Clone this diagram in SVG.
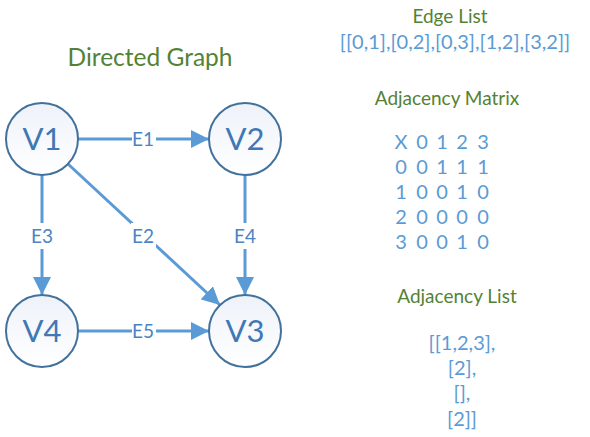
<svg xmlns="http://www.w3.org/2000/svg" width="590" height="437" viewBox="0 0 590 437">
  <style>
    .t { font-family: Lato, "Open Sans", "Liberation Sans", sans-serif; }
    .title { fill: #548235; font-size: 24.5px; }
    .head { fill: #548235; font-size: 19px; }
    .data { fill: #5B9BD5; font-size: 20px; }
    .node circle { fill: url(#nodeFill); stroke: #41719C; stroke-width: 2; }
    .node text { fill: #4077B5; font-size: 31px; text-anchor: middle; }
    .edge { stroke: #5B9BD5; stroke-width: 3; fill: none; marker-end: url(#arrow); }
    .elabel { fill: #4A84C2; font-size: 19px; text-anchor: middle; }
    .lblbg { fill: #ffffff; }
  </style>
  <defs>
    <linearGradient id="nodeFill" x1="0" y1="0" x2="0" y2="1">
      <stop offset="0" stop-color="#eef2f9"/>
      <stop offset="1" stop-color="#ffffff"/>
    </linearGradient>
    <marker id="arrow" viewBox="0 0 10 10" refX="10" refY="5" markerWidth="6" markerHeight="6" orient="auto" markerUnits="strokeWidth">
      <path d="M0,0 L10,5 L0,10 z" fill="#5B9BD5"/>
    </marker>
  </defs>

  <rect width="590" height="437" fill="#ffffff"/>

  <text class="t title" x="150" y="66" text-anchor="middle">Directed Graph</text>

  <!-- connectors -->
  <g id="edges">
    <line class="edge" x1="78" y1="139" x2="209" y2="139"/>
    <line class="edge" x1="68" y1="164" x2="220" y2="305"/>
    <line class="edge" x1="42" y1="175" x2="42" y2="295"/>
    <line class="edge" x1="245" y1="175" x2="245" y2="295"/>
    <line class="edge" x1="78" y1="331" x2="209" y2="331"/>
    <rect class="lblbg" x="132" y="128" width="24" height="22"/>
    <rect class="lblbg" x="131" y="223" width="25" height="26"/>
    <rect class="lblbg" x="30" y="223" width="25" height="26"/>
    <rect class="lblbg" x="233" y="223" width="25" height="26"/>
    <rect class="lblbg" x="132" y="320" width="24" height="22"/>
    <text class="t elabel" x="143" y="146">E1</text>
    <text class="t elabel" x="143" y="243">E2</text>
    <text class="t elabel" x="42" y="243">E3</text>
    <text class="t elabel" x="245" y="243">E4</text>
    <text class="t elabel" x="143" y="338">E5</text>
  </g>

  <!-- vertices -->
  <g id="v1" class="node"><circle cx="42" cy="139" r="36"/><text class="t" x="42" y="150">V1</text></g>
  <g id="v2" class="node"><circle cx="245" cy="139" r="36"/><text class="t" x="245" y="150">V2</text></g>
  <g id="v3" class="node"><circle cx="245" cy="331" r="36"/><text class="t" x="245" y="342">V3</text></g>
  <g id="v4" class="node"><circle cx="42" cy="331" r="36"/><text class="t" x="42" y="342">V4</text></g>

  <!-- edge list -->
  <text class="t head" x="450" y="23" text-anchor="middle">Edge List</text>
  <text class="t data" x="455" y="49" text-anchor="middle">[[0,1],[0,2],[0,3],[1,2],[3,2]]</text>

  <!-- adjacency matrix -->
  <text class="t head" x="447" y="105" text-anchor="middle">Adjacency Matrix</text>
  <g class="t data" text-anchor="middle">
    <text y="149"><tspan x="401">X</tspan><tspan x="422">0</tspan><tspan x="442">1</tspan><tspan x="462">2</tspan><tspan x="483">3</tspan></text>
    <text y="174"><tspan x="401">0</tspan><tspan x="422">0</tspan><tspan x="442">1</tspan><tspan x="462">1</tspan><tspan x="483">1</tspan></text>
    <text y="199"><tspan x="401">1</tspan><tspan x="422">0</tspan><tspan x="442">0</tspan><tspan x="462">1</tspan><tspan x="483">0</tspan></text>
    <text y="224"><tspan x="401">2</tspan><tspan x="422">0</tspan><tspan x="442">0</tspan><tspan x="462">0</tspan><tspan x="483">0</tspan></text>
    <text y="249"><tspan x="401">3</tspan><tspan x="422">0</tspan><tspan x="442">0</tspan><tspan x="462">1</tspan><tspan x="483">0</tspan></text>
  </g>

  <!-- adjacency list -->
  <text class="t head" x="457" y="303" text-anchor="middle">Adjacency List</text>
  <g class="t data" text-anchor="middle">
    <text x="462" y="350">[[1,2,3],</text>
    <text x="462" y="375">[2],</text>
    <text x="462" y="400">[],</text>
    <text x="462" y="426">[2]]</text>
  </g>
</svg>
